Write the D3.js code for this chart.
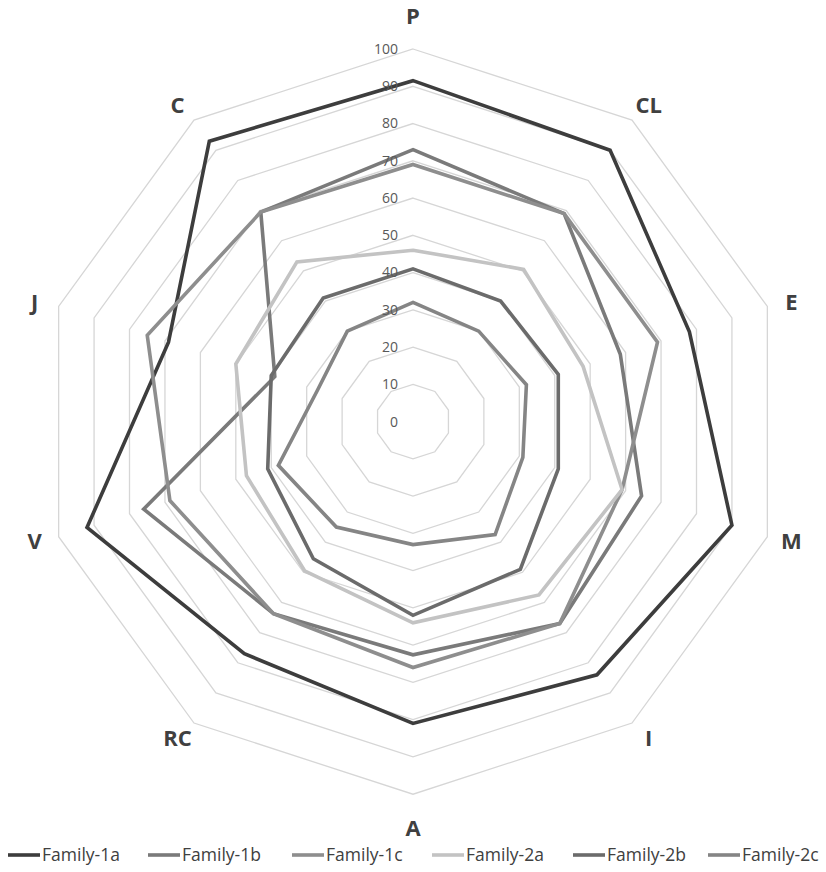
<!DOCTYPE html>
<html>
<head>
<meta charset="utf-8">
<script src="https://cdn.jsdelivr.net/npm/d3@7"></script>
<style>
  html, body { margin: 0; padding: 0; background: #fff; }
  svg { display: block; }
</style>
</head>
<body>
<svg id="chart" width="826" height="872"></svg>
<script>
// Axis categories, clockwise from the top
const categories = ["P", "CL", "E", "M", "I", "A", "RC", "V", "J", "C"];

// Series values per category (same order as categories)
const family1a = [91.5, 90, 78, 90, 84, 81, 77, 92, 69, 93];
const family1b = [73, 69, 58.5, 64.5, 67, 62.6, 63.7, 76, 39, 69.5];
const family1c = [69, 69, 69, 59, 67, 66, 63.7, 68.6, 75, 69.5];
const family2a = [46, 50.5, 48, 59, 57.5, 54, 49.5, 47, 50, 53];
const family2b = [41, 40, 41, 41, 49, 52, 45.5, 41, 40, 41];
const family2c = [32, 30, 32, 31, 37.5, 33, 35, 38, 27, 30];

const seriesNames = ["Family-1a", "Family-1b", "Family-1c", "Family-2a", "Family-2b", "Family-2c"];
const seriesValues = [family1a, family1b, family1c, family2a, family2b, family2c];
const seriesColors = ["#3d3d3d", "#7a7a7a", "#8e8e8e", "#c3c3c3", "#6b6b6b", "#858585"];

// Radial scale ticks
const tickValues = [0, 10, 20, 30, 40, 50, 60, 70, 80, 90, 100];

const svg = d3.select("#chart");
const cx = 413, cy = 421.6, radius = 372.6;

const r = d3.scaleLinear().domain([0, 100]).range([0, radius]);
const angle = d3.scalePoint().domain(categories).range([0, 2 * Math.PI * (categories.length - 1) / categories.length]);

const g = svg.append("g").attr("transform", `translate(${cx},${cy})`);

const lineRadial = d3.lineRadial()
  .angle(d => angle(d.cat))
  .radius(d => r(d.v))
  .curve(d3.curveLinearClosed);

// Concentric polygon gridlines
g.append("g").selectAll("path")
  .data(tickValues.filter(t => t > 0))
  .join("path")
  .attr("d", t => lineRadial(categories.map(c => ({ cat: c, v: t }))))
  .attr("fill", "none")
  .attr("stroke", "#d6d6d6")
  .attr("stroke-width", 1.3);

// Series polygons
g.append("g").selectAll("path")
  .data(seriesValues.map((vals, i) => ({ name: seriesNames[i], color: seriesColors[i], pts: vals.map((v, j) => ({ cat: categories[j], v })) })))
  .join("path")
  .attr("d", d => lineRadial(d.pts))
  .attr("fill", "none")
  .attr("stroke", d => d.color)
  .attr("stroke-width", 3.6)
  .attr("stroke-linejoin", "miter")
  .attr("stroke-miterlimit", 4);

// Tick labels along the top axis
g.append("g").selectAll("text")
  .data(tickValues)
  .join("text")
  .attr("x", -15)
  .attr("y", t => -r(t))
  .attr("dy", "0.35em")
  .attr("text-anchor", "end")
  .attr("font-family", "'Open Sans', sans-serif")
  .attr("font-size", 14)
  .attr("fill", "#595959")
  .text(t => t);

// Category labels outside the outer ring
const labelX = a => (396 + 6 * Math.abs(Math.cos(a))) * Math.sin(a);
const labelY = a => -(388 + 18 * Math.pow(Math.cos(a), 8)) * Math.cos(a);
g.append("g").selectAll("text")
  .data(categories)
  .join("text")
  .attr("x", c => labelX(angle(c)))
  .attr("y", c => labelY(angle(c)))
  .attr("dy", "0.36em")
  .attr("text-anchor", "middle")
  .attr("font-family", "'Open Sans', sans-serif")
  .attr("font-weight", 700)
  .attr("font-size", 22)
  .attr("fill", "#404040")
  .text(c => c);

// Legend
const legendX = [8, 148, 292, 432, 573, 708];
const legend = svg.append("g").attr("transform", "translate(0,855)");
const items = legend.selectAll("g")
  .data(seriesNames)
  .join("g")
  .attr("transform", (d, i) => `translate(${legendX[i]},0)`);
items.append("line")
  .attr("x1", 0).attr("x2", 32)
  .attr("y1", 0).attr("y2", 0)
  .attr("stroke", (d, i) => seriesColors[i])
  .attr("stroke-width", 3.6);
items.append("text")
  .attr("x", 34)
  .attr("y", 0)
  .attr("dy", "0.35em")
  .attr("font-family", "'Open Sans', sans-serif")
  .attr("font-size", 17.5)
  .attr("fill", "#404040")
  .text(d => d);
</script>
</body>
</html>
